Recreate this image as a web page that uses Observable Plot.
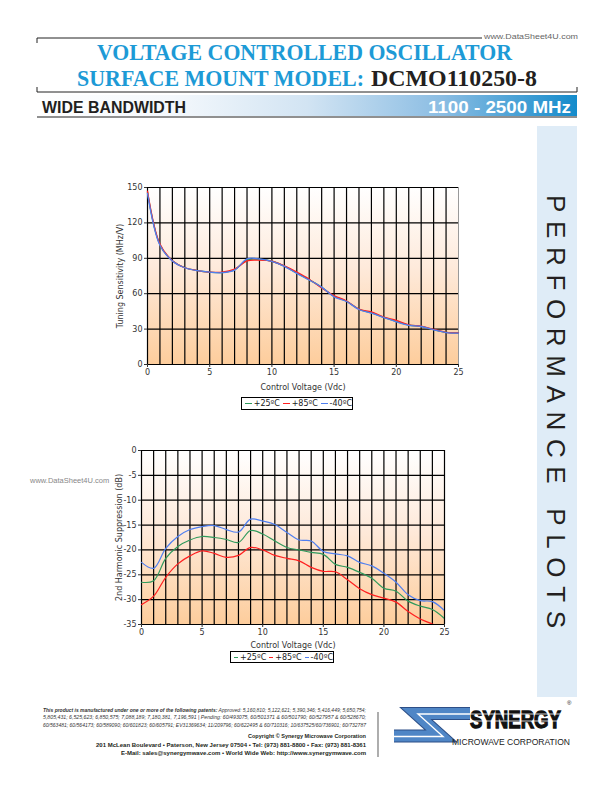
<!DOCTYPE html>
<html>
<head>
<meta charset="utf-8">
<script src="https://cdn.jsdelivr.net/npm/d3@7"></script>
<script src="https://cdn.jsdelivr.net/npm/@observablehq/plot@0.6"></script>
<style>
html, body { margin: 0; padding: 0; background: #fff; }
#page { position: relative; width: 612px; height: 792px; overflow: hidden; font-family: "Liberation Sans", Arial, sans-serif; }
#deco { position: absolute; left: 0; top: 0; }
.chart { position: absolute; }
.legend { position: absolute; border: 1px solid #000; box-sizing: border-box; font: 8px "DejaVu Sans", sans-serif; color: #222;
  display: flex; align-items: center; justify-content: center; white-space: nowrap; background: #fff; }
.legend .sw { display: inline-block; width: 12px; height: 0; border-top: 1.6px solid; margin: 0 2px 0 3px; }
</style>
</head>
<body>
<div id="page">
<svg id="deco" width="612" height="792" xmlns="http://www.w3.org/2000/svg">
  <defs>
    <linearGradient id="band" x1="0" y1="0" x2="1" y2="0">
      <stop offset="0" stop-color="#ffffff"/>
      <stop offset="0.25" stop-color="#f4f8fc"/>
      <stop offset="0.5" stop-color="#d2e4f3"/>
      <stop offset="0.75" stop-color="#8bbde3"/>
      <stop offset="1" stop-color="#148bcb"/>
    </linearGradient>
  </defs>
  <!-- header bracket -->
  <line x1="37" y1="38" x2="578" y2="38" stroke="#222" stroke-width="1"/>
  <line x1="37" y1="38" x2="37" y2="43" stroke="#222" stroke-width="1"/>
  <line x1="37" y1="92" x2="577" y2="92" stroke="#222" stroke-width="1"/>
  <line x1="37" y1="87" x2="37" y2="92" stroke="#222" stroke-width="1"/>
  <line x1="577" y1="87" x2="577" y2="92" stroke="#222" stroke-width="1"/>
  <rect x="482" y="32" width="98" height="9" fill="#fff"/>
  <text x="484" y="38.5" font-family="Liberation Sans" font-size="7.5" fill="#666" textLength="94" lengthAdjust="spacingAndGlyphs">www.DataSheet4U.com</text>
  <!-- title -->
  <text x="97" y="60" font-family="Liberation Serif" font-weight="bold" font-size="23" fill="#1d9ad6" textLength="415" lengthAdjust="spacingAndGlyphs">VOLTAGE CONTROLLED OSCILLATOR</text>
  <text x="77" y="86" font-family="Liberation Serif" font-weight="bold" font-size="23" fill="#1d9ad6" textLength="287" lengthAdjust="spacingAndGlyphs">SURFACE MOUNT MODEL:</text>
  <text x="371" y="86" font-family="Liberation Serif" font-weight="bold" font-size="23" fill="#231f20" textLength="166" lengthAdjust="spacingAndGlyphs">DCMO110250-8</text>
  <!-- band -->
  <rect x="37" y="95" width="540" height="21" fill="url(#band)"/>
  <line x1="37" y1="117" x2="577" y2="117" stroke="#222" stroke-width="1.2"/>
  <text x="42" y="112.5" font-family="Liberation Sans" font-weight="bold" font-size="16.5" fill="#231f20" textLength="144" lengthAdjust="spacingAndGlyphs">WIDE BANDWIDTH</text>
  <text x="428" y="112.5" font-family="Liberation Sans" font-weight="bold" font-size="16.5" fill="#fff" textLength="143" lengthAdjust="spacingAndGlyphs">1100 - 2500 MHz</text>
  <!-- side panel -->
  <rect x="537" y="126" width="40" height="571" fill="#dfecf7"/>
  <text transform="translate(547,195) rotate(90)" font-family="Liberation Sans" font-size="26" fill="#231f20" textLength="433" lengthAdjust="spacing">PERFORMANCE PLOTS</text>
  <!-- watermark -->
  <text x="30" y="483" font-family="Liberation Sans" font-size="7.5" fill="#888">www.DataSheet4U.com</text>
  <!-- footer -->
  <g font-family="Liberation Sans" font-style="italic" font-size="5" fill="#333" text-anchor="end">
    <text x="366" y="712" textLength="323" lengthAdjust="spacingAndGlyphs"><tspan font-weight="bold">This product is manufactured under one or more of the following patents:</tspan> Approved: 5,160,810; 5,122,621; 5,390,346; 5,416,449; 5,650,754;</text>
    <text x="366" y="719" textLength="323" lengthAdjust="spacingAndGlyphs">5,805,431; 6,525,623; 6,850,575; 7,088,189; 7,180,381, 7,196,591 | Pending: 60/493075, 60/501371 &amp; 60/501790; 60/527957 &amp; 60/528670;</text>
    <text x="366" y="727" textLength="323" lengthAdjust="spacingAndGlyphs">60/563481; 60/564173; 60/589090; 60/601823; 60/605791; EV31369634; 11/209796; 60/622495 &amp; 60/710316; 10/637525/60/736901; 60/732787</text>
  </g>
  <g font-family="Liberation Sans" font-weight="bold" font-size="6" fill="#231f20" text-anchor="end">
    <text x="366" y="738" textLength="118" lengthAdjust="spacingAndGlyphs">Copyright © Synergy Microwave Corporation</text>
    <text x="366" y="747" textLength="270" lengthAdjust="spacingAndGlyphs">201 McLean Boulevard • Paterson, New Jersey 07504 • Tel: (973) 881-8800 • Fax: (973) 881-8361</text>
    <text x="366" y="755" textLength="245" lengthAdjust="spacingAndGlyphs">E-Mail: sales@synergymwave.com • World Wide Web: http://www.synergymwave.com</text>
  </g>
  <line x1="378" y1="712" x2="378" y2="757" stroke="#777" stroke-width="1.2"/>
  <!-- logo -->
  <polyline points="470,713.5 416,713.5 441,736 394,736" fill="none" stroke="#2d4f87" stroke-width="13" stroke-linejoin="miter"/>
  <polyline points="470,713.5 416,713.5 441,736 394,736" fill="none" stroke="#4f86c6" stroke-width="11" stroke-linejoin="miter"/>
  <polyline points="470,714 418,714 443,736.5 394,736.5" fill="none" stroke="#fff" stroke-width="1.4" stroke-linejoin="miter"/>
  <text x="470" y="728" font-family="Liberation Sans Narrow, Liberation Sans" font-weight="bold" font-size="24" fill="#111" stroke="#111" stroke-width="1.3" textLength="91" lengthAdjust="spacingAndGlyphs">SYNERGY</text>
  <line x1="470" y1="714" x2="562" y2="714" stroke="#fff" stroke-width="0.8"/>
  <line x1="470" y1="721" x2="562" y2="721" stroke="#fff" stroke-width="0.8"/>
  <text x="567" y="705" font-family="Liberation Sans" font-size="6" fill="#111">®</text>
  <text x="452" y="745" font-family="Liberation Sans Narrow, Liberation Sans" font-size="9" fill="#222" textLength="118" lengthAdjust="spacingAndGlyphs">MICROWAVE CORPORATION</text>
</svg>
<div id="c1" class="chart" style="left:100px; top:180px;"></div>
<div id="c2" class="chart" style="left:90px; top:443px;"></div>
<div class="legend" id="lg1" style="left:241px; top:397px; width:112px; height:13px;"></div>
<div class="legend" id="lg2" style="left:230px; top:651px; width:104px; height:12px;"></div>
</div>

<script>
// ---- data ----
const voltage = [0,1,2,3,4,5,6,7,8,9,10,11,12,13,14,15,16,17,18,19,20,21,22,23,24,25];
const seriesNames = ["+25ºC", "+85ºC", "-40ºC"];
const seriesColors = ["#2f9a5c", "#ff1f1f", "#4f7ff0"];

// Tuning Sensitivity (MHz/V)
const sens25  = [146, 101.5, 88, 82, 79.6, 78.3, 77.9, 80.3, 88.5, 89, 87.5, 83.3, 77.5, 71.8, 65.5, 57.8, 53.6, 46.8, 43.8, 40, 36.5, 33.4, 32.3, 29.5, 27.2, 26.7];
const sens85  = [147, 102, 88, 82, 79.6, 78.3, 78.2, 80.8, 87.8, 88.4, 87.5, 83.5, 78.3, 72.3, 64.8, 58.4, 53.8, 47, 44.5, 40.2, 37.4, 33.6, 32.5, 29.7, 27.3, 26.8];
const sensM40 = [145, 101, 87.8, 82, 79.5, 78.2, 77.8, 80, 89.5, 89.5, 87.4, 83.2, 77.2, 71.6, 65.6, 57.3, 53.4, 46.6, 43.5, 39.8, 36.2, 33.2, 32.2, 29.4, 27.1, 26.6];

// 2nd Harmonic Suppression (dB)
const harm25  = [-26.5, -26.2, -21.7, -19.3, -18, -17.3, -17.5, -17.9, -18.5, -16.1, -16.8, -18.2, -19.5, -20, -20.5, -20.9, -22.9, -23.5, -24.5, -25.7, -27.7, -28.3, -30.3, -31.3, -32, -33.8];
const harm85  = [-31, -29.3, -25.5, -22.8, -21.2, -20.2, -20.7, -21.5, -21.1, -19.5, -20, -21.1, -21.7, -22.2, -23.5, -24.3, -24.4, -26, -27.8, -29, -29.7, -30.5, -32.4, -33.9, -34.9, -36];
const harmM40 = [-22.5, -23.7, -19.7, -17.3, -15.9, -15.3, -15.1, -15.9, -16.4, -13.8, -14.2, -14.9, -16.5, -18, -18.2, -20.3, -20.8, -21.2, -22.5, -23.2, -24.7, -26.5, -29, -30.2, -30.4, -32.2];

const voltTicks = [0, 5, 10, 15, 20, 25];
const voltGrid = [0,1,2,3,4,5,6,7,8,9,10,11,12,13,14,15,16,17,18,19,20,21,22,23,24,25];
const sensTicks = [0, 30, 60, 90, 120, 150];
const harmTicks = [0, -5, -10, -15, -20, -25, -30, -35];

const xLabel = "Control Voltage (Vdc)";
const sensLabel = "Tuning Sensitivity (MHz/V)";
const harmLabel = "2nd Harmonic Suppression (dB)";

// ---- tables ----
function long(arrs) {
  const rows = [];
  arrs.forEach((arr, k) => voltage.forEach((v, i) => rows.push({v, y: arr[i], s: seriesNames[k]})));
  return rows;
}
const sensRows = long([sens25, sens85, sensM40]);
const harmRows = long([harm25, harm85, harmM40]);

const baseStyle = {fontFamily: "DejaVu Sans, sans-serif", fontSize: "8px", color: "#333", background: "transparent", overflow: "visible"};

function addGradient(svg, id) {
  const g = d3.select(svg).insert("defs", ":first-child")
    .append("linearGradient").attr("id", id)
    .attr("x1", 0).attr("y1", 0).attr("x2", 0).attr("y2", 1);
  g.append("stop").attr("offset", 0).attr("stop-color", "#ffffff");
  g.append("stop").attr("offset", 0.45).attr("stop-color", "#feeadb");
  g.append("stop").attr("offset", 1).attr("stop-color", "#fdcd9c");
}

const chart1 = Plot.plot({
  width: 370, height: 212,
  marginLeft: 47, marginRight: 12, marginTop: 7, marginBottom: 28,
  x: {domain: [0, 25]},
  y: {domain: [0, 150]},
  color: {domain: seriesNames, range: seriesColors},
  style: baseStyle,
  marks: [
    Plot.frame({fill: "url(#bg1)", stroke: "#999"}),
    Plot.ruleX(voltGrid.slice(0, 25), {stroke: "#000", strokeWidth: 1.2}),
    Plot.ruleY(sensTicks, {stroke: "#000", strokeWidth: 1.2}),
    Plot.axisX(voltTicks, {tickSize: 3, tickPadding: 2, label: null, tickFormat: d => String(d)}),
    Plot.axisY(sensTicks, {tickSize: 3, tickPadding: 2, label: null, tickFormat: d => String(d)}),
    Plot.line(sensRows, {x: "v", y: "y", z: "s", stroke: "s", curve: "catmull-rom", strokeWidth: 1.3}),
    Plot.text([xLabel], {frameAnchor: "bottom", lineAnchor: "middle", textAnchor: "middle", dy: 23, fill: "#333"}),
    Plot.text([sensLabel], {frameAnchor: "left", textAnchor: "middle", lineAnchor: "middle", rotate: -90, dx: -27, fill: "#333"})
  ]
});
addGradient(chart1, "bg1");
document.getElementById("c1").append(chart1);

const chart2 = Plot.plot({
  width: 366, height: 209,
  marginLeft: 51, marginRight: 12, marginTop: 7, marginBottom: 28,
  x: {domain: [0, 25]},
  y: {domain: [-35, 0]},
  color: {domain: seriesNames, range: seriesColors},
  style: baseStyle,
  marks: [
    Plot.frame({fill: "url(#bg2)", stroke: "#555"}),
    Plot.ruleX(voltGrid, {stroke: "#000", strokeWidth: 1.2}),
    Plot.ruleY(harmTicks, {stroke: "#000", strokeWidth: 1.2}),
    Plot.axisX(voltTicks, {tickSize: 3, tickPadding: 2, label: null, tickFormat: d => String(d)}),
    Plot.axisY(harmTicks, {tickSize: 3, tickPadding: 2, label: null, tickFormat: d => String(d)}),
    Plot.line(harmRows, {x: "v", y: "y", z: "s", stroke: "s", curve: "catmull-rom", strokeWidth: 1.2, clip: true}),
    Plot.text([xLabel], {frameAnchor: "bottom", lineAnchor: "middle", textAnchor: "middle", dy: 21, fill: "#333"}),
    Plot.text([harmLabel], {frameAnchor: "left", textAnchor: "middle", lineAnchor: "middle", rotate: -90, dx: -22, fill: "#333"})
  ]
});
addGradient(chart2, "bg2");
document.getElementById("c2").append(chart2);

// ---- legends ----
for (const id of ["lg1", "lg2"]) {
  const el = document.getElementById(id);
  seriesNames.forEach((n, k) => {
    const sw = document.createElement("span");
    sw.className = "sw";
    sw.style.borderTopColor = seriesColors[k];
    const t = document.createElement("span");
    t.textContent = n;
    el.append(sw, t);
  });
}
</script>
</body>
</html>
